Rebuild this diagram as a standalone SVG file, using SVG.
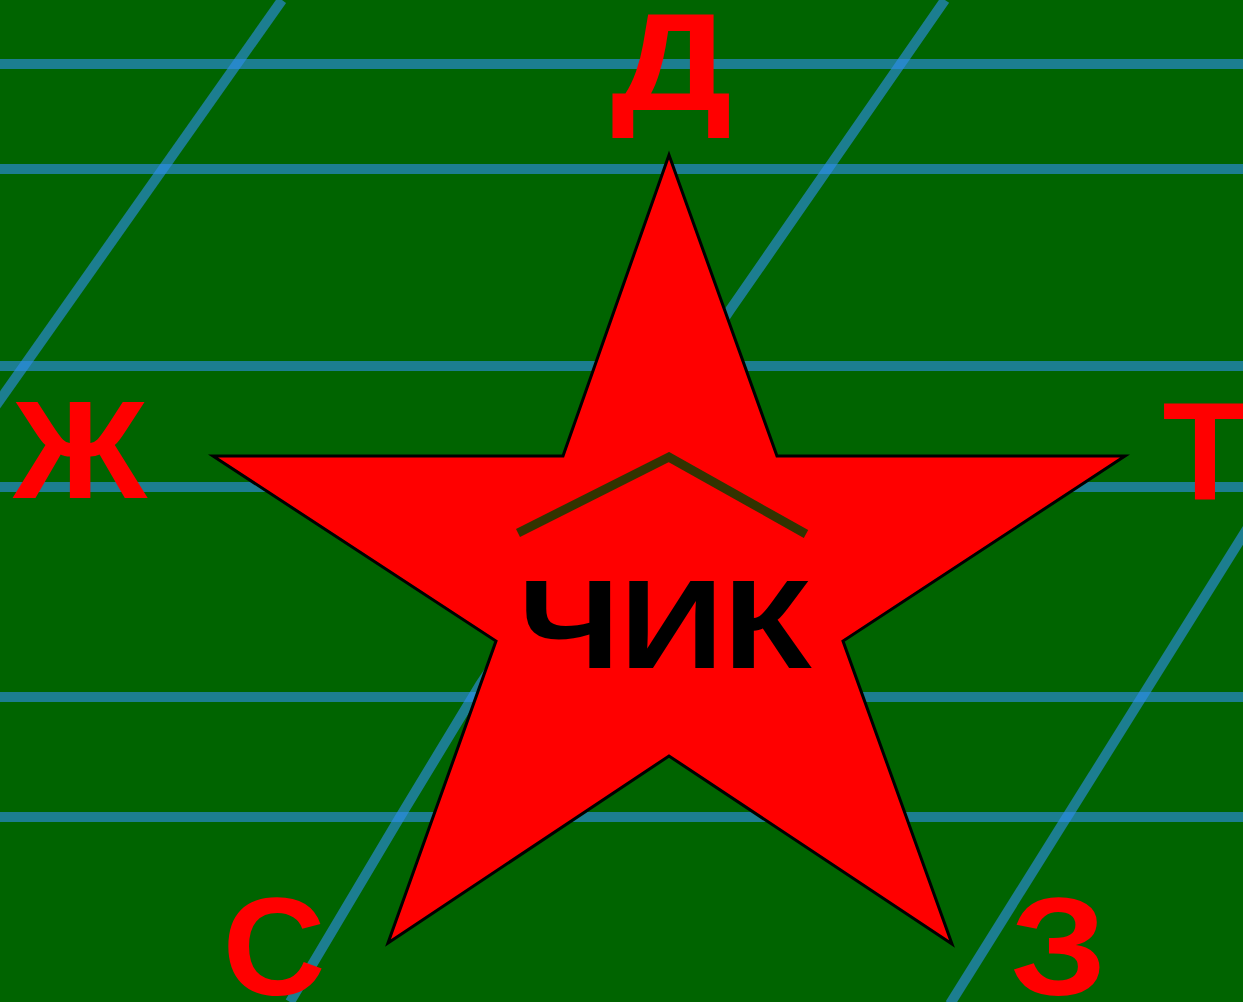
<svg xmlns="http://www.w3.org/2000/svg" width="1243" height="1002" viewBox="0 0 1243 1002">
<style>
.grid{stroke:#2e8ff0;stroke-opacity:0.6;stroke-width:10;fill:none}
.lbl{fill:#ff0000;font-family:"Liberation Sans",Arial,sans-serif;font-weight:700;font-size:139px;text-anchor:middle}
.star{fill:#ff0000;stroke:#000000;stroke-width:3;stroke-linejoin:miter}
.roof{stroke:#333300;stroke-width:9;stroke-linecap:butt}
.word{fill:#000000;font-family:"Liberation Sans",Arial,sans-serif;font-weight:700;font-size:127px;text-anchor:middle}
</style>
<rect x="0" y="0" width="1243" height="1002" fill="#006400"/>
<g id="grid">
<line class="grid" x1="0" y1="64" x2="1243" y2="64"/>
<line class="grid" x1="0" y1="169" x2="1243" y2="169"/>
<line class="grid" x1="0" y1="366" x2="1243" y2="366"/>
<line class="grid" x1="0" y1="487" x2="1243" y2="487"/>
<line class="grid" x1="0" y1="697" x2="1243" y2="697"/>
<line class="grid" x1="0" y1="817" x2="1243" y2="817"/>
<line class="grid" x1="282" y1="0" x2="-5" y2="407"/>
<polyline class="grid" points="945,0 730,310 480,685 400,817 290,1002"/>
<line class="grid" x1="1262" y1="505" x2="950" y2="1004"/>
</g>
<g id="star">
<polygon class="star" points="669,155 777,456 1125,456 843,641 952,944 669,756 388,943 496,641 213,456 563,456"/>
</g>
<g id="roof">
<line class="roof" x1="518" y1="533" x2="671" y2="456"/>
<line class="roof" x1="667" y1="456" x2="806" y2="534"/>
</g>
<text class="word" x="665" y="668" textLength="293" lengthAdjust="spacingAndGlyphs">ЧИК</text>
<g id="labels">
<text class="lbl" x="671.5" y="110" textLength="121" lengthAdjust="spacingAndGlyphs">Д</text>
<text class="lbl" x="80" y="498" textLength="134" lengthAdjust="spacingAndGlyphs">Ж</text>
<text class="lbl" x="1205" y="499">Т</text>
<text class="lbl" x="274" y="995" textLength="103" lengthAdjust="spacingAndGlyphs">С</text>
<text class="lbl" x="1058.5" y="995" textLength="96" lengthAdjust="spacingAndGlyphs">З</text>
</g>
</svg>
